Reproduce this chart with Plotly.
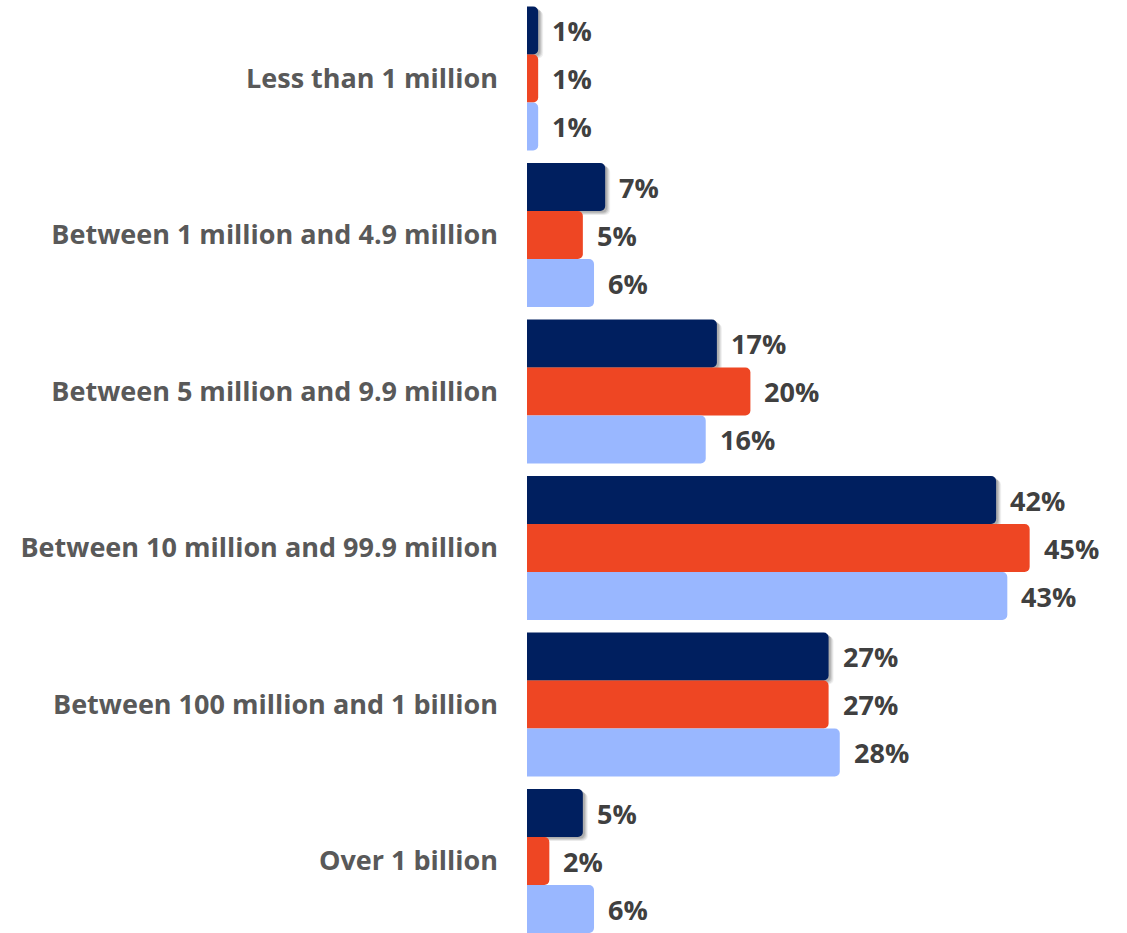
import plotly.graph_objects as go

categories = [
    "Less than 1 million",
    "Between 1 million and 4.9 million",
    "Between 5 million and 9.9 million",
    "Between 10 million and 99.9 million",
    "Between 100 million and 1 billion",
    "Over 1 billion",
]
series_a = [1, 7, 17, 42, 27, 5]   # navy
series_b = [1, 5, 20, 45, 27, 2]   # orange
series_c = [1, 6, 16, 43, 28, 6]   # light blue

colors = ["#001F5F", "#EE4623", "#99B7FF"]
series = [series_a, series_b, series_c]

positions = list(range(len(categories)))
bar_w = 0.3067
offsets = [-1.5 * bar_w, -0.5 * bar_w, 0.5 * bar_w]

fig = go.Figure()

# soft drop shadow behind the navy bars
px_x = 1 / 11.17
px_y = 1 / 156.5
for dx, alpha in [(5, 0.06), (4, 0.08), (3, 0.10), (2, 0.12)]:
    fig.add_trace(go.Bar(
        y=positions, x=[v + dx * px_x for v in series_a],
        orientation="h", width=bar_w, offset=offsets[0] + dx * px_y * 0.8,
        marker=dict(color=f"rgba(0,0,0,{alpha})", line=dict(width=0)),
        hoverinfo="skip", showlegend=False,
    ))

for vals, col, off in zip(series, colors, offsets):
    fig.add_trace(go.Bar(
        y=positions, x=vals, orientation="h", width=bar_w, offset=off,
        marker=dict(color=col, line=dict(width=0)),
        showlegend=False,
    ))

# value labels
for vals, off in zip(series, offsets):
    for p, v in zip(positions, vals):
        fig.add_annotation(
            x=v, y=p + off + bar_w / 2, text=f"<b>{v}%</b>",
            showarrow=False, xanchor="left", yanchor="middle", xshift=12,
            font=dict(family="Open Sans", size=27, color="#404040"),
        )

fig.update_layout(
    width=1127, height=933,
    margin=dict(l=527, r=0, t=0, b=0),
    plot_bgcolor="white", paper_bgcolor="white",
    barmode="overlay", barcornerradius=5,
    xaxis=dict(range=[0, 600 / 11.17], visible=False, showgrid=False, zeroline=False),
    yaxis=dict(
        range=[5.460, -0.5016], tickvals=positions,
        ticktext=[f"<b>{c}</b>" for c in categories],
        showgrid=False, zeroline=False, showline=False, ticks="",
        ticklabelstandoff=28,
        tickfont=dict(family="Open Sans", size=27, color="#595959"),
    ),
)

fig.write_html("out.html")
